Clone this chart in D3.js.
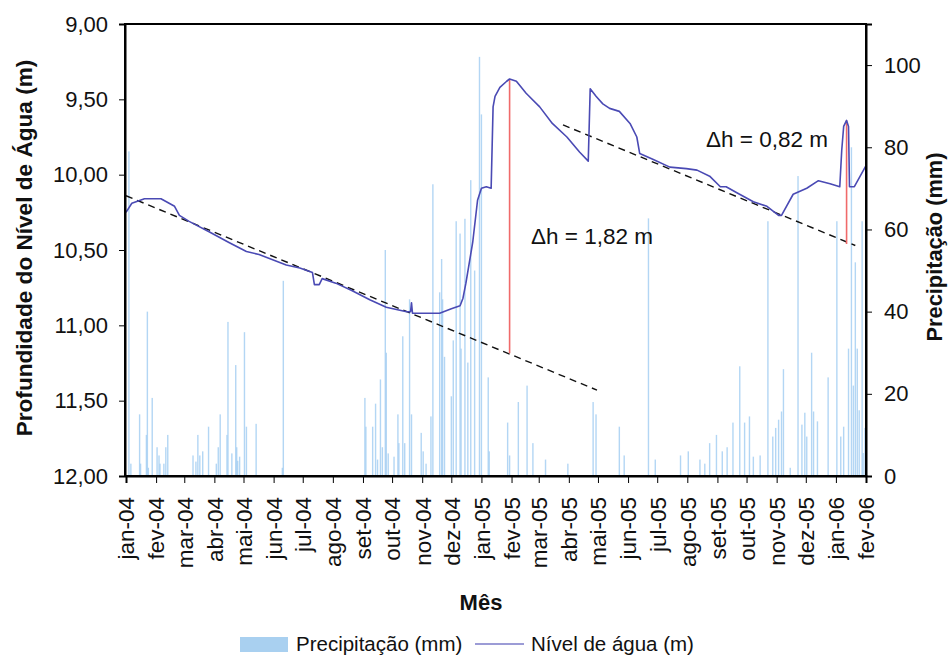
<!DOCTYPE html>
<html>
<head>
<meta charset="utf-8">
<script src="https://cdn.jsdelivr.net/npm/d3@7/dist/d3.min.js"></script>
<style>
  html, body { margin: 0; padding: 0; background: #fff; }
  svg text { font-family: "Liberation Sans", Arial, sans-serif; fill: #111; }
</style>
</head>
<body>
<svg id="chart" width="948" height="657"></svg>
<script>
// Daily rainfall events (mm)
const rainDates = [
  "2004-01-04","2004-01-06","2004-01-15","2004-01-16","2004-01-22","2004-01-23","2004-01-24","2004-01-28",
  "2004-02-02","2004-02-04","2004-02-05","2004-02-09","2004-02-11","2004-02-13",
  "2004-03-10","2004-03-13","2004-03-15","2004-03-17","2004-03-20","2004-03-26",
  "2004-04-03","2004-04-05","2004-04-07","2004-04-14","2004-04-15","2004-04-19","2004-04-23","2004-04-24","2004-04-25","2004-04-27",
  "2004-05-02","2004-05-04","2004-05-14","2004-06-10","2004-06-11",
  "2004-09-03","2004-09-04","2004-09-11","2004-09-14","2004-09-16","2004-09-19","2004-09-21","2004-09-24","2004-09-25","2004-09-27",
  "2004-10-03","2004-10-07","2004-10-08","2004-10-12","2004-10-14","2004-10-19","2004-10-21","2004-10-31",
  "2004-11-02","2004-11-05","2004-11-10","2004-11-12","2004-11-19","2004-11-21","2004-11-22","2004-11-24",
  "2004-12-01","2004-12-03","2004-12-06","2004-12-10","2004-12-11","2004-12-15","2004-12-18","2004-12-21","2004-12-25","2004-12-30",
  "2005-01-01","2005-01-08","2005-01-09","2005-01-28","2005-01-30",
  "2005-02-08","2005-02-17","2005-02-23","2005-03-08","2005-03-31","2005-04-26","2005-04-29",
  "2005-05-23","2005-05-28","2005-06-22","2005-06-29","2005-07-25",
  "2005-08-02","2005-08-14","2005-08-19","2005-08-24","2005-08-31",
  "2005-09-06","2005-09-11","2005-09-17","2005-09-24","2005-09-29",
  "2005-10-04","2005-10-08","2005-10-15","2005-10-23","2005-10-28","2005-10-31",
  "2005-11-03","2005-11-06","2005-11-08","2005-11-15","2005-11-23","2005-11-27","2005-11-30",
  "2005-12-02","2005-12-07","2005-12-09","2005-12-13","2005-12-24",
  "2006-01-02","2006-01-06","2006-01-09","2006-01-14","2006-01-17","2006-01-19","2006-01-21","2006-01-23","2006-01-25","2006-01-28","2006-01-29","2006-01-31"
];
const rainValues = [
  79, 3, 15, 3, 10, 40, 2, 19,
  7, 5, 3, 3, 7, 10,
  5, 3.5, 10, 5, 6, 12,
  3, 7, 15, 10, 37.5, 5.5, 27, 7, 3.7, 4.7,
  35, 12, 12.7, 2, 47.5,
  19, 12, 12, 17.6, 4, 23.5, 7, 55, 30, 5.5,
  4.7, 15, 8, 34, 8, 43, 15, 10.5,
  6, 3, 14.5, 71, 44.7, 52.8, 43, 29,
  19.4, 33, 62, 59, 31, 62.6, 27.6, 72, 50, 102,
  88, 24, 6, 13, 5,
  18, 22, 8, 4, 3, 18, 15,
  12, 5, 62.7, 4, 5,
  6, 4, 3, 8, 10,
  6, 7, 13, 26.7, 13,
  14.5, 4.7, 5, 62, 9.6, 11.7,
  13.7, 15.7, 26, 2, 73, 12.5, 15.4,
  9.6, 30, 15.7, 13.3, 24,
  62, 9.6, 12, 31, 80, 22, 52, 31, 16, 62, 5.6, 11.7
];

// Water table depth (m)
const levelDates = [
  "2004-01-01","2004-01-07","2004-01-20","2004-02-06","2004-02-20","2004-02-25","2004-03-06","2004-03-27",
  "2004-04-16","2004-05-04","2004-05-17","2004-06-14","2004-06-28","2004-07-11","2004-07-13","2004-07-18",
  "2004-07-21","2004-08-04","2004-08-21","2004-09-08","2004-09-25","2004-10-16","2004-10-20","2004-10-21",
  "2004-10-22","2004-10-26","2004-11-19","2004-12-01","2004-12-10","2004-12-13","2004-12-16","2004-12-23",
  "2004-12-28","2005-01-01","2005-01-06","2005-01-11","2005-01-13","2005-01-15","2005-01-20","2005-01-27",
  "2005-01-30","2005-02-06","2005-02-16","2005-03-02","2005-03-15","2005-03-30","2005-04-12","2005-04-21",
  "2005-04-23","2005-04-29","2005-05-06","2005-05-13","2005-05-23","2005-06-03","2005-06-10","2005-06-13",
  "2005-06-27","2005-07-14","2005-07-31","2005-08-11","2005-08-24","2005-09-04","2005-09-10","2005-09-21",
  "2005-10-08","2005-10-22","2005-11-03","2005-11-06","2005-11-18","2005-12-02","2005-12-14","2005-12-26",
  "2006-01-05","2006-01-07","2006-01-09","2006-01-12","2006-01-14","2006-01-15","2006-01-20","2006-01-26","2006-02-01"
];
const levelValues = [
  10.25, 10.19, 10.16, 10.16, 10.21, 10.27, 10.31, 10.38,
  10.45, 10.51, 10.53, 10.60, 10.62, 10.65, 10.73, 10.73,
  10.69, 10.72, 10.77, 10.83, 10.88, 10.91, 10.91, 10.85,
  10.92, 10.92, 10.92, 10.89, 10.87, 10.82, 10.72, 10.45,
  10.17, 10.09, 10.08, 10.09, 9.55, 9.48, 9.42, 9.38,
  9.365, 9.38, 9.46, 9.55, 9.66, 9.75, 9.85, 9.91,
  9.43, 9.48, 9.53, 9.56, 9.58, 9.66, 9.75, 9.86,
  9.90, 9.95, 9.96, 9.97, 10.01, 10.08, 10.08, 10.12,
  10.18, 10.21, 10.27, 10.27, 10.13, 10.09, 10.04, 10.06,
  10.08, 9.84, 9.68, 9.64, 9.68, 10.08, 10.08, 10.01, 9.94
];

// Recession trend lines: start/end dates and depths
const trendStart = ["2004-01-01", "2005-03-26"];
const trendStartDepth = [10.14, 9.67];
const trendEnd = ["2005-04-30", "2006-01-21"];
const trendEndDepth = [11.43, 10.47];

// Water table rise (Δh) at recharge peaks
const riseDates = ["2005-01-30", "2006-01-12"];
const risePeak = [9.365, 9.64];
const riseDelta = [1.82, 0.82];

const monthNames = ["jan","fev","mar","abr","mai","jun","jul","ago","set","out","nov","dez"];
const depthTicks = [9, 9.5, 10, 10.5, 11, 11.5, 12];
const rainTicks = [0, 20, 40, 60, 80, 100];

const parse = d3.utcParse("%Y-%m-%d");
const comma2 = v => d3.format(".2f")(v).replace(".", ",");
const FONT = "Liberation Sans, Arial, sans-serif";

const svg = d3.select("#chart");
const L = 125, R = 866, T = 24, B = 476;

const x = d3.scaleUtc()
  .domain([parse("2004-01-01"), parse("2006-02-01")])
  .range([L + 1, R]);
const yDepth = d3.scaleLinear().domain([9, 12]).range([T, B]);
const yRain = d3.scaleLinear().domain([0, 110]).range([B, T]);

// Rainfall bars
const rain = rainDates.map((d, i) => ({ date: parse(d), v: rainValues[i] }));
svg.append("g")
  .selectAll("rect")
  .data(rain)
  .join("rect")
  .attr("x", d => x(d.date) - 0.7)
  .attr("width", 1.4)
  .attr("y", d => yRain(d.v))
  .attr("height", d => yRain(0) - yRain(d.v))
  .attr("fill", "#a6cff2")
  .attr("opacity", 0.85);

// Trend lines
svg.append("g")
  .selectAll("line")
  .data(trendStart.map((d, i) => i))
  .join("line")
  .attr("x1", i => x(parse(trendStart[i])))
  .attr("y1", i => yDepth(trendStartDepth[i]))
  .attr("x2", i => x(parse(trendEnd[i])))
  .attr("y2", i => yDepth(trendEndDepth[i]))
  .attr("stroke", "#111")
  .attr("stroke-width", 1.4)
  .attr("stroke-dasharray", "7,5");

// Δh segments
svg.append("g")
  .selectAll("line")
  .data(riseDates.map((d, i) => i))
  .join("line")
  .attr("x1", i => x(parse(riseDates[i])))
  .attr("x2", i => x(parse(riseDates[i])))
  .attr("y1", i => yDepth(risePeak[i]))
  .attr("y2", i => yDepth(risePeak[i] + riseDelta[i]))
  .attr("stroke", "#f06a6a")
  .attr("stroke-width", 1.6);

// Water level line
const level = levelDates.map((d, i) => ({ date: parse(d), v: levelValues[i] }));
svg.append("path")
  .datum(level)
  .attr("fill", "none")
  .attr("stroke", "#4a4ab4")
  .attr("stroke-width", 1.6)
  .attr("stroke-linejoin", "round")
  .attr("d", d3.line().x(d => x(d.date)).y(d => yDepth(d.v)));

// Δh labels
const labelPos = [[531, 244], [706, 147]];
svg.append("g")
  .selectAll("text")
  .data(riseDelta)
  .join("text")
  .attr("x", (d, i) => labelPos[i][0])
  .attr("y", (d, i) => labelPos[i][1])
  .attr("font-size", 22.5)
  .text(d => "Δh = " + comma2(d) + " m");

// Plot frame
svg.append("rect")
  .attr("x", L).attr("y", T)
  .attr("width", R - L).attr("height", B - T)
  .attr("fill", "none").attr("stroke", "#000").attr("stroke-width", 2);

// Left axis
const gL = svg.append("g").attr("transform", `translate(${L},0)`)
  .call(d3.axisLeft(yDepth).tickValues(depthTicks).tickFormat(comma2).tickSize(6).tickPadding(11));
gL.select(".domain").attr("stroke-width", 2);
gL.selectAll("text").attr("font-size", 22).attr("font-family", FONT);

// Right axis
const gR = svg.append("g").attr("transform", `translate(${R},0)`)
  .call(d3.axisRight(yRain).tickValues(rainTicks).tickSize(6).tickPadding(12));
gR.select(".domain").attr("stroke-width", 2);
gR.selectAll("text").attr("font-size", 22).attr("font-family", FONT);

// Bottom axis with monthly ticks
const monthTicks = d3.utcMonth.range(parse("2004-01-01"), parse("2006-02-02"));
const gB = svg.append("g").attr("transform", `translate(0,${B})`)
  .call(d3.axisBottom(x).tickValues(monthTicks).tickSize(7)
    .tickFormat(d => monthNames[d.getUTCMonth()] + "-" + d3.utcFormat("%y")(d)));
gB.select(".domain").attr("stroke-width", 2);
gB.selectAll("text")
  .attr("font-size", 22.5)
  .attr("font-family", FONT)
  .attr("text-anchor", "end")
  .attr("transform", "rotate(-90)")
  .attr("x", -21)
  .attr("y", 0)
  .attr("dy", "0.35em");

// Axis titles
svg.append("text")
  .attr("transform", "translate(32,248) rotate(-90)")
  .attr("text-anchor", "middle")
  .attr("font-weight", "bold").attr("font-size", 22.6)
  .text("Profundidade do Nível de Água (m)");
svg.append("text")
  .attr("transform", "translate(942,247) rotate(-90)")
  .attr("text-anchor", "middle")
  .attr("font-weight", "bold").attr("font-size", 21.8)
  .text("Precipitação (mm)");
svg.append("text")
  .attr("x", 481).attr("y", 610)
  .attr("text-anchor", "middle")
  .attr("font-weight", "bold").attr("font-size", 22)
  .text("Mês");

// Legend
const lg = svg.append("g");
lg.append("rect").attr("x", 240).attr("y", 637).attr("width", 48).attr("height", 15).attr("fill", "#a9d0f0");
lg.append("text").attr("x", 296).attr("y", 651).attr("font-size", 20.5).text("Precipitação (mm)");
lg.append("line").attr("x1", 475).attr("x2", 524).attr("y1", 644).attr("y2", 644)
  .attr("stroke", "#7b7bc8").attr("stroke-width", 1.6);
lg.append("text").attr("x", 531).attr("y", 651).attr("font-size", 20.5).text("Nível de água (m)");
</script>
</body>
</html>
